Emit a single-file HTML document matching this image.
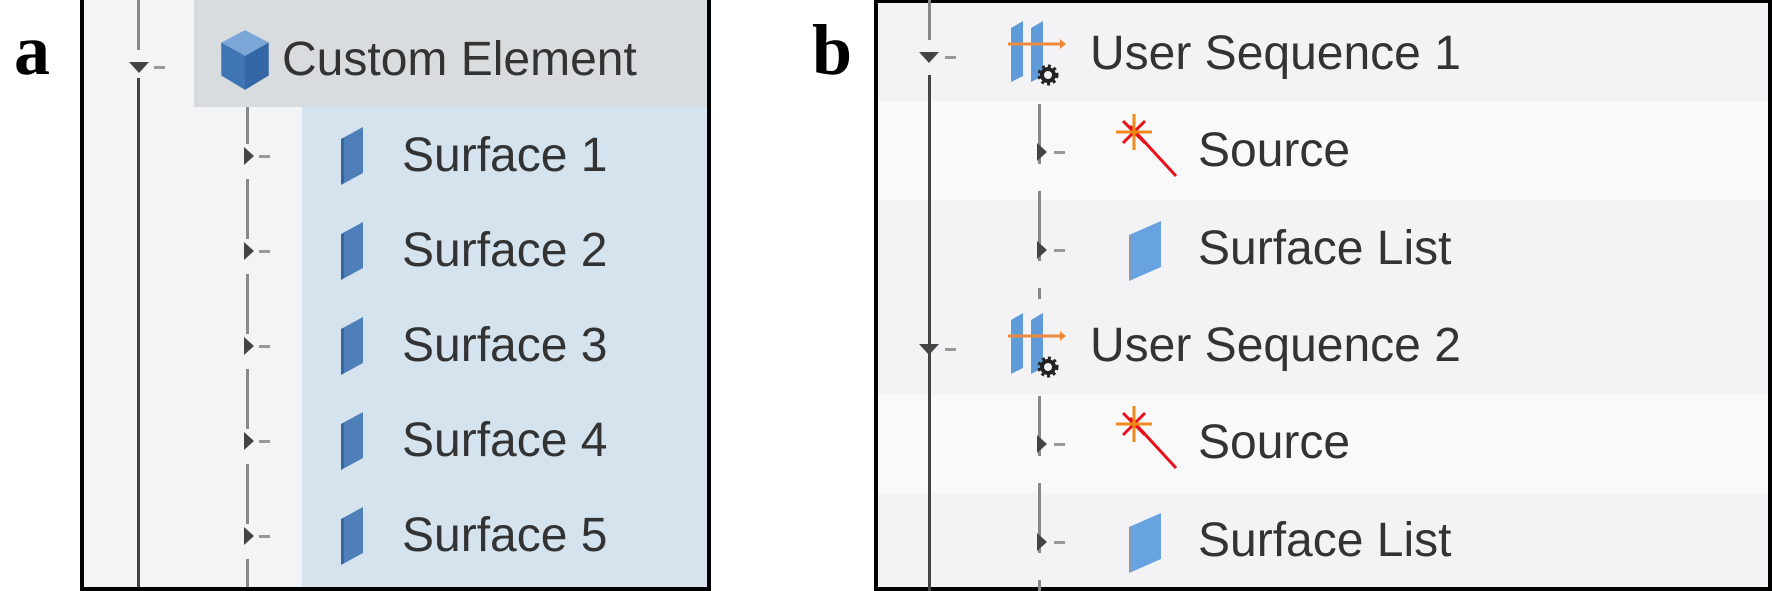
<!DOCTYPE html>
<html><head><style>
body{margin:0;width:1772px;height:591px;background:#fff;position:relative;overflow:hidden;font-family:"Liberation Sans",sans-serif}
.a{position:absolute}
.t{position:absolute;font-size:48px;color:#333;line-height:1;white-space:nowrap}
.lbl{position:absolute;font-family:"Liberation Serif",serif;font-weight:bold;font-size:72px;color:#000;line-height:1}
</style></head><body>
<div class="lbl" style="left:14px;top:14px">a</div>
<div class="lbl" style="left:812px;top:14px">b</div>

<!-- Panel a -->
<div class="a" style="left:80px;top:0;width:631px;height:591px;box-sizing:border-box;border:4px solid #000;border-top:none;border-bottom:4px solid #000;background:#f3f4f6;overflow:hidden">
  <div class="a" style="left:110px;top:0;width:540px;height:107px;background:#d9dcde"></div>
  <div class="a" style="left:218px;top:107px;width:450px;height:500px;background:#d5e3ee"></div>
  <div class="a" style="left:53px;top:0;width:3px;height:50px;background:#888"></div>
  <div class="a" style="left:53px;top:78px;width:3px;height:520px;background:#444"></div>
  <div class="a" style="left:45px;top:62px;width:0;height:0;border-left:10px solid transparent;border-right:10px solid transparent;border-top:11px solid #444"></div>
  <div class="a" style="left:70px;top:66px;width:11px;height:3px;background:#999"></div>
  <svg class="a" style="left:134px;top:28px" width="54" height="64" viewBox="0 0 50 62"><polygon points="25,2 48,14 25,27 2,14" fill="#7aa7d8"/><polygon points="2,14 25,27 25,60 2,46" fill="#3f74b5"/><polygon points="48,14 25,27 25,60 48,46" fill="#3566a5"/></svg>
  <div class="t" style="left:198px;top:36px">Custom Element</div>
  <div class="a" style="left:162px;top:107px;width:3px;height:500px;background:repeating-linear-gradient(#888 0 60px,transparent 60px 95px);background-position:0 -23px"></div>
</div>

<!-- Panel b -->
<div class="a" style="left:874px;top:0;width:898px;height:591px;box-sizing:border-box;border:4px solid #000;border-top:3px solid #000;overflow:hidden;background:#f9f9f9">
  <div class="a" style="left:0;top:0;width:900px;height:98px;background:#f3f3f5"></div>
  <div class="a" style="left:0;top:197px;width:900px;height:98px;background:#f3f3f5"></div>
  <div class="a" style="left:0;top:295px;width:900px;height:97px;background:#f3f3f5"></div>
  <div class="a" style="left:0;top:490px;width:900px;height:98px;background:#f3f3f5"></div>
</div>
<div id="arows"></div>

<script>
var h='';
var ys=[156,251,346,441,536];
ys.forEach(function(y,i){
 h+='<div class="a" style="left:244px;top:'+(y-9)+'px;border-top:9px solid transparent;border-bottom:9px solid transparent;border-left:10px solid #444"></div>';
 h+='<div class="a" style="left:259px;top:'+(y-1)+'px;width:11px;height:3px;background:#999"></div>';
 h+='<svg class="a" style="left:338px;top:'+(y-30)+'px" width="28" height="60"><polygon points="3,13 25,1 25,47 3,59" fill="#4f7fb8"/><polygon points="3,13 6,12 6,57 3,59" fill="#37659e"/></svg>';
 h+='<div class="t" style="left:402px;top:'+(y-24)+'px">Surface '+(i+1)+'</div>';
});
var L=874;
h+='<div class="a" style="left:'+(L+54)+'px;top:0;width:3px;height:40px;background:#888"></div>';
h+='<div class="a" style="left:'+(L+54)+'px;top:75px;width:3px;height:516px;background:#444"></div>';
[[54,1],[346,2]].forEach(function(r){
 var y=r[0];
 h+='<div class="a" style="left:'+(L+45)+'px;top:'+(y-2)+'px;border-left:10px solid transparent;border-right:10px solid transparent;border-top:11px solid #444"></div>';
 h+='<div class="a" style="left:'+(L+71)+'px;top:'+(y+2)+'px;width:11px;height:3px;background:#999"></div>';
 h+='<svg class="a" style="left:1008px;top:'+(y-36)+'px" width="62" height="70"><polygon points="3,10 15,3 15,58 3,64" fill="#5e9bd8"/><polygon points="23,10 35,3 35,58 23,64" fill="#5e9bd8"/><line x1="0" y1="26" x2="56" y2="26" stroke="#f08a3a" stroke-width="3"/><polygon points="52,21 58,26 52,31" fill="#f08a3a"/><circle cx="40" cy="57" r="6" fill="none" stroke="#222" stroke-width="4"/><circle cx="40" cy="57" r="9" fill="none" stroke="#222" stroke-width="3" stroke-dasharray="3 3"/></svg>';
 h+='<div class="t" style="left:1090px;top:'+(y-24)+'px">User Sequence '+r[1]+'</div>';
 h+='<div class="a" style="left:1038px;top:'+(y+50)+'px;width:3px;height:195px;background:repeating-linear-gradient(#888 0 70px,transparent 70px 97px);background-position:0 -10px"></div>';
 [[y+98,'s'],[y+196,'f']].forEach(function(c){
  var cy=c[0];
  h+='<div class="a" style="left:1037px;top:'+(cy-9)+'px;border-top:9px solid transparent;border-bottom:9px solid transparent;border-left:10px solid #444"></div>';
  h+='<div class="a" style="left:1054px;top:'+(cy-1)+'px;width:11px;height:3px;background:#999"></div>';
  if(c[1]=='s'){
   h+='<svg class="a" style="left:1116px;top:'+(cy-38)+'px" width="66" height="70"><line x1="14" y1="12" x2="60" y2="62" stroke="#e8101a" stroke-width="3"/><line x1="7" y1="7" x2="29" y2="29" stroke="#e8101a" stroke-width="3"/><line x1="29" y1="7" x2="7" y2="29" stroke="#e8101a" stroke-width="3"/><line x1="18" y1="0" x2="18" y2="36" stroke="#f08a1a" stroke-width="3"/><line x1="0" y1="18" x2="36" y2="18" stroke="#f08a1a" stroke-width="3"/></svg>';
   h+='<div class="t" style="left:1198px;top:'+(cy-25)+'px">Source</div>';
  } else {
   h+='<svg class="a" style="left:1127px;top:'+(cy-31)+'px" width="36" height="64"><polygon points="2,16 34,2 34,48 2,62" fill="#66a3e0"/><polygon points="2,16 5,15 5,60 2,62" fill="#8a9aaa"/></svg>';
   h+='<div class="t" style="left:1198px;top:'+(cy-25)+'px">Surface List</div>';
  }
 });
});
document.getElementById('arows').innerHTML=h;
</script>
</body></html>
